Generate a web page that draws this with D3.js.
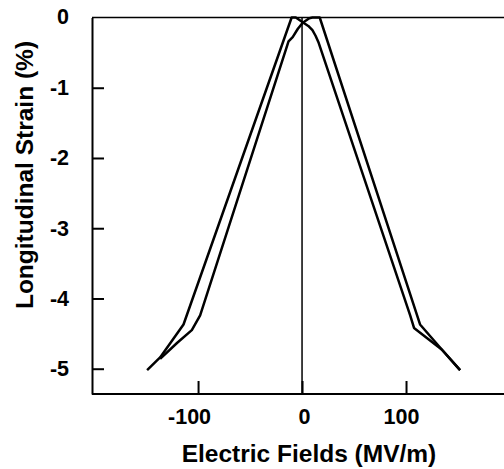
<!DOCTYPE html>
<html><head><meta charset="utf-8">
<script src="https://cdn.jsdelivr.net/npm/d3@7"></script>
<style>
html,body{margin:0;padding:0;background:#fff;}
text{font-family:"Liberation Sans",Arial,sans-serif;font-weight:bold;fill:#000;}
</style></head>
<body>
<svg id="c" width="504" height="469"></svg>
<script>
// Data (E field in MV/m, strain in %)
const line1 = [[-149,-5.02],[-136.5,-4.84],[-114,-4.37],[-10,0],[-6,0],[1,-0.07],[6,-0.12],[10,-0.18],[13,-0.26],[16,-0.36],[104,-4.24],[107.7,-4.42],[134.6,-4.73],[152,-5.02]];
const line2 = [[-136.5,-4.86],[-120,-4.63],[-106,-4.45],[-98,-4.24],[-13,-0.34],[-9,-0.28],[-4,-0.16],[1,-0.07],[7,-0.01],[10,0],[17,0],[113.5,-4.37],[134.6,-4.73],[152,-5.02]];
const xTicks = [-100, 0, 100];
const yTicks = [0, -1, -2, -3, -4, -5];
const xTitle = "Electric Fields (MV/m)";
const yTitle = "Longitudinal Strain (%)";

const svg = d3.select("#c");
const x = d3.scaleLinear().domain([-202, 200]).range([92, 510]);
const y = d3.scaleLinear().domain([-5.36, 0]).range([394, 17.5]);

// top frame line
svg.append("line").attr("x1", x(-202)).attr("x2", 504).attr("y1", y(0)).attr("y2", y(0))
  .attr("stroke", "#000").attr("stroke-width", 1.6);
// zero field vertical line
svg.append("line").attr("x1", x(0)).attr("x2", x(0)).attr("y1", y(0)).attr("y2", y(-5.36))
  .attr("stroke", "#000").attr("stroke-width", 1.5);

const fmt = d => String(d);
const yAxis = svg.append("g").attr("transform", `translate(${x(-202)},0)`)
  .call(d3.axisLeft(y).tickValues(yTicks.filter(d => d !== 0)).tickSize(-12).tickSizeOuter(0).tickPadding(23)
    .tickFormat(fmt));
yAxis.append("g").attr("class","tick").attr("transform",`translate(0,${y(0)})`)
  .append("text").attr("x",-23).attr("dy","0.32em").attr("text-anchor","end").text(fmt(yTicks[0]));

const xAxis = svg.append("g").attr("transform", `translate(0,${y(-5.36)})`)
  .call(d3.axisBottom(x).tickValues(xTicks).tickSize(-13).tickSizeOuter(0).tickPadding(15)
    .tickFormat(fmt));
xAxis.select(".domain").attr("d", `M${x(-202)},0H504`);

[yAxis, xAxis].forEach(g => {
  g.select(".domain").attr("stroke", "#000").attr("stroke-width", 2);
  g.selectAll(".tick line").attr("stroke", "#000").attr("stroke-width", 2);
  g.selectAll("text").style("font-size", "21.5px").style("font-family", '"Liberation Sans",Arial,sans-serif').style("font-weight", "bold").attr("fill", "#000");
});
xAxis.selectAll(".tick text").attr("dx", d => d === 0 ? 2 : (d < 0 ? -9 : -5));

const lineGen = d3.line().x(d => x(d[0])).y(d => y(d[1]));
[line1, line2].forEach(data => {
  svg.append("path").datum(data).attr("d", lineGen)
    .attr("fill", "none").attr("stroke", "#000").attr("stroke-width", 2.5)
    .attr("stroke-linejoin", "round").attr("stroke-linecap", "butt");
});

svg.append("text").attr("x", 309).attr("y", 462).attr("text-anchor", "middle")
  .style("font-size", "24.5px").text(xTitle);
svg.append("text").attr("transform", "translate(33,175) rotate(-90)").attr("text-anchor", "middle")
  .style("font-size", "24.5px").text(yTitle);
</script>
</body></html>
